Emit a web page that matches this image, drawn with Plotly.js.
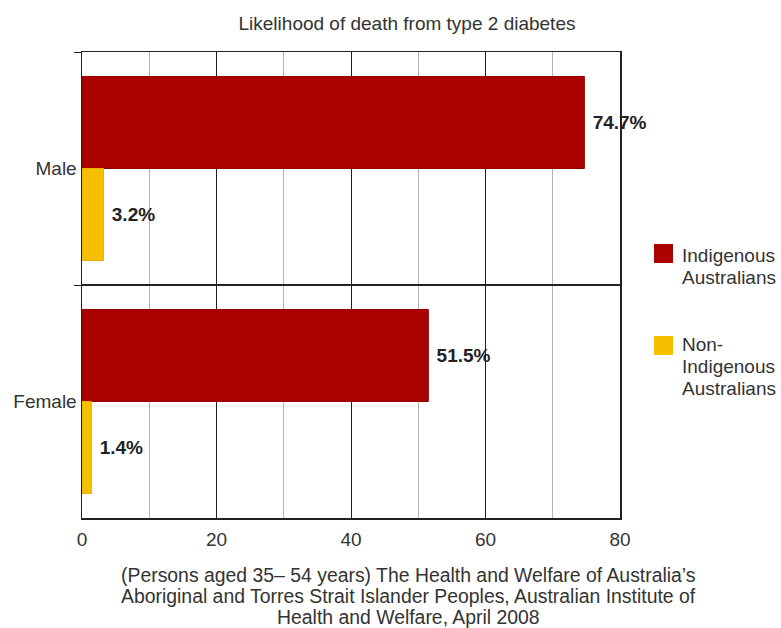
<!DOCTYPE html>
<html>
<head>
<meta charset="utf-8">
<script src="https://cdn.plot.ly/plotly-3.0.1.min.js"></script>
<style>
  html, body { margin: 0; padding: 0; background: #fff; }
  #chart { width: 781px; height: 628px; }
</style>
</head>
<body>
<div id="chart"></div>
<script>
// Chart values
const categories = ['Male', 'Female'];
const seriesNames = ['Indigenous Australians', 'Non-Indigenous Australians'];
const indigenous = [74.7, 51.5];
const nonIndigenous = [3.2, 1.4];
const xTickValues = [0, 20, 40, 60, 80];
const xTickLabels = ['0', '20', '40', '60', '80'];
const chartTitle = 'Likelihood of death from type 2 diabetes';
const captionLines = [
  '(Persons aged 35\u2013 54 years) The Health and Welfare of Australia\u2019s',
  'Aboriginal and Torres Strait Islander Peoples, Australian Institute of',
  'Health and Welfare, April 2008'
];
const legendLines = [
  ['Indigenous', 'Australians'],
  ['Non-', 'Indigenous', 'Australians']
];

// Styling
const W = 781, H = 628;
const M = { l: 82, r: 161, t: 52, b: 110 };
const PW = W - M.l - M.r, PH = H - M.t - M.b;
const FONT = 'Liberation Sans, Arial, Helvetica, sans-serif';
const TEXT = '#333333';
const RED = '#aa0000';
const YELLOW = '#f6bf00';

// pixel -> paper coordinate helpers
const px = x => (x - M.l) / PW;
const py = y => (H - M.b - y) / PH;

const traces = [
  {
    type: 'bar', orientation: 'h', name: seriesNames[0],
    y: categories, x: indigenous,
    marker: { color: RED, line: { color: '#940000', width: 1 } },
    texttemplate: '\u00a0%{x:.1f}%', textposition: 'outside',
    textfont: { family: FONT, size: 19, color: '#222', weight: 'bold' },
    cliponaxis: false, showlegend: false, hoverinfo: 'x+y'
  },
  {
    type: 'bar', orientation: 'h', name: seriesNames[1],
    y: categories, x: nonIndigenous,
    marker: { color: YELLOW, line: { color: '#e9b200', width: 1 } },
    texttemplate: '\u00a0%{x:.1f}%', textposition: 'outside',
    textfont: { family: FONT, size: 19, color: '#222', weight: 'bold' },
    cliponaxis: false, showlegend: false, hoverinfo: 'x+y'
  }
];

const annotations = [];
// caption below the axis, one annotation per line
const capY = [575, 596, 617];
captionLines.forEach((t, i) => annotations.push({
  xref: 'paper', yref: 'paper', x: px(408), y: py(capY[i]),
  xanchor: 'center', yanchor: 'middle', showarrow: false, text: t,
  font: { family: FONT, size: 19.4, color: TEXT }
}));

// legend: swatches + text
const swatchColors = [RED, YELLOW];
const swatchTop = [244, 336];
const legendLineY = [[255, 277], [344, 366, 388]];
const shapes = [];
swatchColors.forEach((c, i) => {
  shapes.push({
    type: 'rect', xref: 'paper', yref: 'paper',
    x0: px(654), x1: px(673), y0: py(swatchTop[i] + 19), y1: py(swatchTop[i]),
    fillcolor: c, line: { width: 0 }
  });
  legendLines[i].forEach((t, j) => annotations.push({
    xref: 'paper', yref: 'paper', x: px(680), y: py(legendLineY[i][j]),
    xanchor: 'left', yanchor: 'middle', showarrow: false, text: t,
    font: { family: FONT, size: 19, color: TEXT }
  }));
});

const layout = {
  width: W, height: H,
  margin: M,
  paper_bgcolor: '#fff', plot_bgcolor: '#fff',
  barmode: 'group', bargap: 0.21, bargroupgap: 0,
  showlegend: false,
  title: {
    text: chartTitle, x: 407 / W, xanchor: 'center', xref: 'container',
    y: 1 - 23 / H, yanchor: 'middle', yref: 'container',
    font: { family: FONT, size: 19, color: TEXT }
  },
  xaxis: {
    range: [0, 80], fixedrange: true,
    tickvals: xTickValues, ticktext: xTickLabels,
    showgrid: true, gridcolor: '#222', gridwidth: 1,
    minor: { dtick: 10, showgrid: true, gridcolor: '#b4b4b4', gridwidth: 1 },
    showline: true, linecolor: '#222', linewidth: 1.5, mirror: true,
    zeroline: false, ticks: '', ticklabelstandoff: 4,
    tickfont: { family: FONT, size: 19, color: TEXT }
  },
  yaxis: {
    type: 'category', categoryorder: 'array', categoryarray: categories,
    autorange: 'reversed', fixedrange: true,
    tickson: 'boundaries', ticks: 'outside', ticklen: 7, tickcolor: '#222',
    showgrid: true, gridcolor: '#222', gridwidth: 1.5,
    showline: true, linecolor: '#222', linewidth: 1.5, mirror: true,
    zeroline: false,
    tickfont: { family: FONT, size: 19, color: TEXT }
  },
  shapes: shapes,
  annotations: annotations
};

Plotly.newPlot('chart', traces, layout, { displayModeBar: false, staticPlot: true });
</script>
</body>
</html>
